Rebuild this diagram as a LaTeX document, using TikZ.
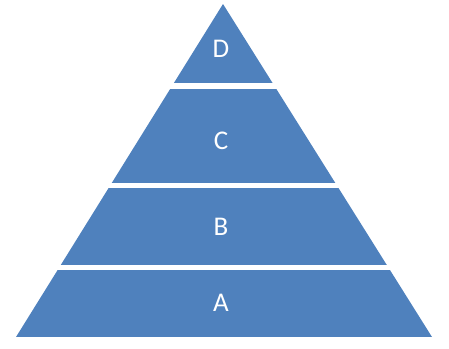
\documentclass[tikz,border=0pt]{standalone}
\usepackage{fontspec}
\setmainfont{Carlito}
\definecolor{pyrblue}{HTML}{4F81BD}
\begin{document}
\begin{tikzpicture}[x=1pt,y=-1pt,
  lbl/.style={text=white,font=\fontsize{27}{30}\selectfont,inner sep=0pt,anchor=center}]
\useasboundingbox (0,0) rectangle (449,348);
\coordinate (apex) at (223,4);
\coordinate (bl) at (16,337);
\coordinate (br) at (432,337);
\begin{scope}
  \clip (apex) -- (br) -- (bl) -- cycle;
  \fill[pyrblue] (0,0) rectangle (449,83);
  \fill[pyrblue] (0,89) rectangle (449,183);
  \fill[pyrblue] (0,188) rectangle (449,265);
  \fill[pyrblue] (0,270) rectangle (449,337);
\end{scope}
\node[lbl] (d) at (221,49) {D};
\node[lbl] (c) at (221,141) {C};
\node[lbl] (b) at (221,227) {B};
\node[lbl] (a) at (221,303) {A};
\end{tikzpicture}
\end{document}
